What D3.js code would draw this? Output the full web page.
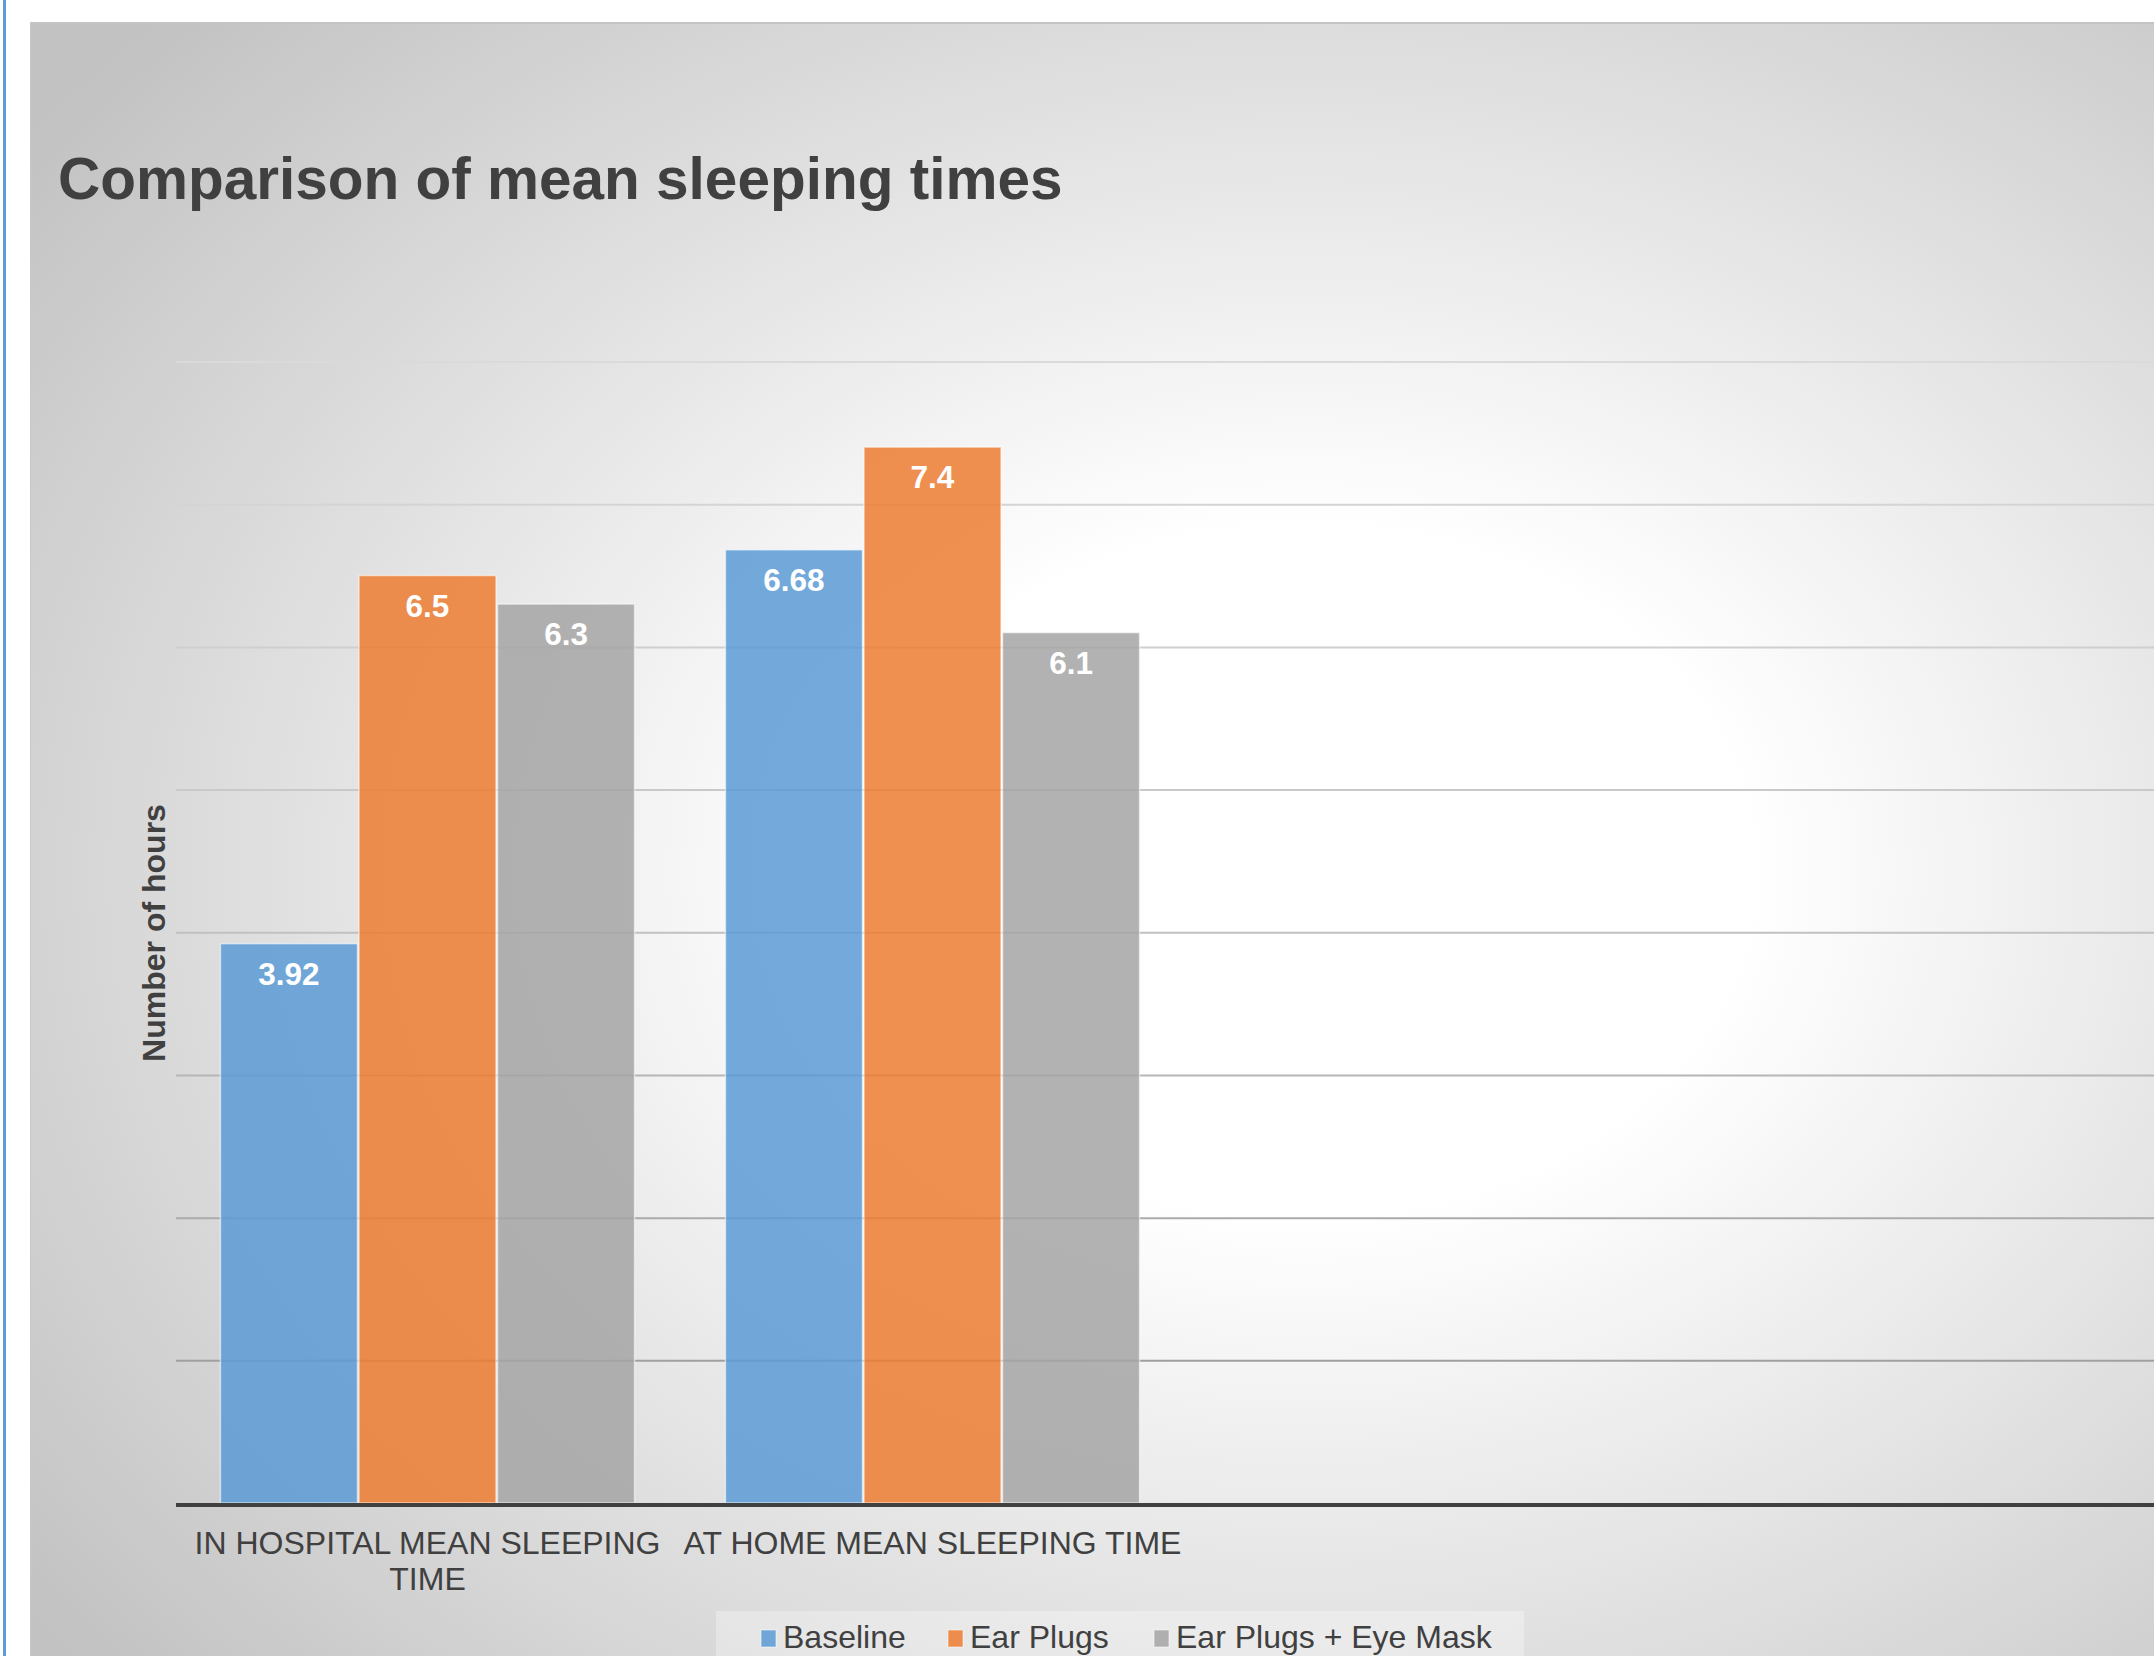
<!DOCTYPE html>
<html><head><meta charset="utf-8">
<script src="https://cdn.jsdelivr.net/npm/d3@7"></script>
<style>html,body{margin:0;padding:0;background:#fff;overflow:hidden}</style>
</head><body>
<svg id="c" width="2154" height="1656"></svg>
<script>
// ---- data ----
const categories = ["IN HOSPITAL MEAN SLEEPING TIME", "AT HOME MEAN SLEEPING TIME"];
const seriesNames = ["Baseline", "Ear Plugs", "Ear Plugs + Eye Mask"];
const baselineValues = [3.92, 6.68];
const earPlugsValues = [6.5, 7.4];
const earPlugsEyeMaskValues = [6.3, 6.1];
const yTicks = [1, 2, 3, 4, 5, 6, 7, 8];
const seriesColors = ["#5B9BD5", "#ED7D31", "#A5A5A5"];
const titleText = "Comparison of mean sleeping times";
const yAxisTitle = "Number of hours";

const seriesValues = [baselineValues, earPlugsValues, earPlugsEyeMaskValues];
const W = 2154, H = 1656;
const FONT = "'Liberation Sans', Arial, Helvetica, sans-serif";
const svg = d3.select("#c");

// background
const defs = svg.append("defs");
const rg = defs.append("radialGradient").attr("id", "bg")
  .attr("cx", 0.6).attr("cy", 0.52).attr("r", 0.75);
rg.append("stop").attr("offset", 0).attr("stop-color", "#ffffff");
rg.append("stop").attr("offset", 0.28).attr("stop-color", "#ffffff");
rg.append("stop").attr("offset", 1).attr("stop-color", "#c2c2c2");

const gg = defs.append("linearGradient").attr("id", "gridGrad")
  .attr("gradientUnits", "userSpaceOnUse")
  .attr("x1", 0).attr("x2", 0).attr("y1", 361).attr("y2", 1362);
gg.append("stop").attr("offset", 0).attr("stop-color", "#dadada");
gg.append("stop").attr("offset", 0.5).attr("stop-color", "#c6c6c6");
gg.append("stop").attr("offset", 1).attr("stop-color", "#a0a0a0");

svg.append("rect").attr("x", 3).attr("y", 0).attr("width", 3).attr("height", H).attr("fill", "#5f9bd6");
svg.append("rect").attr("x", 30).attr("y", 22).attr("width", W - 30).attr("height", H - 22)
  .attr("fill", "url(#bg)");
svg.append("line").attr("x1", 30).attr("x2", W).attr("y1", 23).attr("y2", 23)
  .attr("stroke", "#c4c4c4").attr("stroke-width", 2);
svg.append("line").attr("x1", 30.5).attr("x2", 30.5).attr("y1", 22).attr("y2", H)
  .attr("stroke", "#c8c8c8").attr("stroke-width", 1);

// scales
const plotLeft = 176, plotRight = W;
const y = d3.scaleLinear().domain([0, 8]).range([1503, 361.5]);
const x = d3.scaleBand().domain(categories).range([plotLeft - 1, plotLeft + 1009])
  .paddingInner(0.177).paddingOuter(0.0885);
const xs = d3.scaleBand().domain(seriesNames).range([0, x.bandwidth()]).padding(0);

// gridlines
const grid = svg.append("g").attr("transform", `translate(${plotLeft},0)`)
  .call(d3.axisLeft(y).tickValues(yTicks).tickSize(-(plotRight - plotLeft)).tickFormat(""));
grid.select(".domain").remove();
grid.selectAll(".tick line").attr("stroke", "url(#gridGrad)").attr("stroke-width", 2);
// gradient with userSpaceOnUse on horizontal lines: set each line's own stroke colour via interpolation
const gridColor = d3.scaleLinear().domain([361, 861, 1362]).range(["#dadada", "#c6c6c6", "#a0a0a0"]).clamp(true);
grid.selectAll(".tick").each(function (d) {
  d3.select(this).select("line").attr("stroke", gridColor(y(d)));
});

// bars
const groups = svg.append("g").selectAll("g").data(categories).join("g")
  .attr("transform", d => `translate(${x(d)},0)`);
groups.each(function (cat, ci) {
  const g = d3.select(this);
  seriesNames.forEach((s, si) => {
    const v = seriesValues[si][ci];
    g.append("rect")
      .attr("x", xs(s) + 0.75).attr("width", xs.bandwidth() - 1.5)
      .attr("y", y(v)).attr("height", y(0) - y(v))
      .attr("fill", seriesColors[si]).attr("fill-opacity", 0.85)
      .attr("stroke", "rgba(255,255,255,0.55)").attr("stroke-width", 1.5);
    g.append("text")
      .attr("x", xs(s) + xs.bandwidth() / 2).attr("y", y(v) + 41)
      .attr("text-anchor", "middle").attr("fill", "#ffffff")
      .attr("font-family", FONT).attr("font-weight", "bold").attr("font-size", 31.5)
      .text(v);
  });
});

// baseline axis
svg.append("line").attr("x1", plotLeft).attr("x2", plotRight)
  .attr("y1", y(0) + 2).attr("y2", y(0) + 2)
  .attr("stroke", "#404040").attr("stroke-width", 4);

// x labels (wrapped)
const xAxis = svg.append("g").attr("transform", `translate(0,${y(0)})`)
  .call(d3.axisBottom(x).tickSize(0).tickPadding(0));
xAxis.select(".domain").remove();
xAxis.selectAll("text")
  .attr("font-family", FONT).attr("font-size", 32).attr("fill", "#404040")
  .attr("dy", null).attr("y", 51)
  .each(function () {
    const t = d3.select(this);
    const words = t.text().split(" ");
    t.text(null);
    let line = [], lineNo = 0;
    let tspan = t.append("tspan").attr("x", 0).attr("y", 51);
    for (const w of words) {
      line.push(w);
      tspan.text(line.join(" "));
      if (tspan.node().getComputedTextLength() > x.step() && line.length > 1) {
        line.pop();
        tspan.text(line.join(" "));
        line = [w];
        lineNo++;
        tspan = t.append("tspan").attr("x", 0).attr("y", 51 + lineNo * 36).text(w);
      }
    }
  });

// title
svg.append("text").attr("x", 58).attr("y", 199)
  .attr("font-family", FONT).attr("font-weight", "bold").attr("font-size", 58.5)
  .attr("fill", "#404040").text(titleText);

// y axis title
svg.append("text").attr("transform", `translate(165,933) rotate(-90)`)
  .attr("text-anchor", "middle")
  .attr("font-family", FONT).attr("font-weight", "bold").attr("font-size", 32)
  .attr("fill", "#404040").text(yAxisTitle);

// legend
svg.append("rect").attr("x", 716).attr("y", 1611).attr("width", 808).attr("height", 60)
  .attr("fill", "#ffffff").attr("fill-opacity", 0.3);
const legendX = [761, 948, 1154];
const leg = svg.append("g").selectAll("g").data(seriesNames).join("g")
  .attr("transform", (d, i) => `translate(${legendX[i]},0)`);
leg.append("rect").attr("x", 0).attr("y", 1630).attr("width", 15).attr("height", 17)
  .attr("fill", (d, i) => seriesColors[i]).attr("fill-opacity", 0.85)
  .attr("stroke", "rgba(255,255,255,0.55)").attr("stroke-width", 1);
leg.append("text").attr("x", 22).attr("y", 1648)
  .attr("font-family", FONT).attr("font-size", 32).attr("fill", "#404040")
  .text(d => d);
</script>
</body></html>
